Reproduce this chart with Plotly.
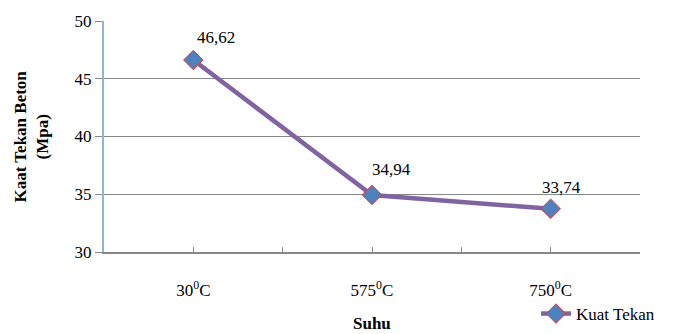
import plotly.graph_objects as go

# Compressive strength of concrete at different temperatures
suhu = ["30<sup>0</sup>C", "575<sup>0</sup>C", "750<sup>0</sup>C"]
kuat_tekan = [46.62, 34.94, 33.74]
label_teks = ["46,62", "34,94", "33,74"]
series_name = "Kuat Tekan"

# label offsets (px) relative to each marker
label_dx = [23, 19, 11]
label_dy = [23, 25, 21]

FONT = "Tinos, Liberation Serif, DejaVu Serif"
LINE_C = "#8064A2"
MARK_C = "#4F81BD"
GRID_C = "#878787"

x_idx = list(range(len(suhu)))

fig = go.Figure()
fig.add_trace(go.Scatter(
    x=x_idx, y=kuat_tekan, mode="lines+markers", name=series_name,
    line=dict(color=LINE_C, width=4.5),
    marker=dict(symbol="diamond", size=15, color=MARK_C,
                line=dict(color="#E8343A", width=1)),
))

for xi, v, t, dx, dy in zip(x_idx, kuat_tekan, label_teks, label_dx, label_dy):
    fig.add_annotation(x=xi, y=v, text=t, showarrow=False, xshift=dx, yshift=dy,
                       font=dict(family=FONT, size=17, color="#000"))

# tick marks between categories
half_ticks = [i + 0.5 for i in range(-1, len(suhu))]

fig.update_layout(
    width=675, height=334,
    margin=dict(l=104, r=35, t=21, b=82, autoexpand=False),
    paper_bgcolor="white", plot_bgcolor="white",
    font=dict(family=FONT, size=16, color="#000"),
    showlegend=True,
    legend=dict(x=(536 - 104) / 536, xanchor="left",
                y=(252 - 314) / 231, yanchor="middle",
                bgcolor="rgba(0,0,0,0)", font=dict(family=FONT, size=17),
                itemwidth=30, borderwidth=0),
    xaxis=dict(range=[-0.5, 2.5], tickvals=x_idx, ticktext=suhu,
               ticks="inside", ticklen=5, tickcolor=GRID_C,
               minor=dict(tickvals=half_ticks, ticks="inside", ticklen=5,
                          tickcolor=GRID_C, showgrid=False),
               showgrid=False, zeroline=False,
               showline=True, linecolor=GRID_C, linewidth=1.5,
               ticklabelstandoff=22, tickfont=dict(family=FONT, size=17)),
    yaxis=dict(range=[30, 50], dtick=5, ticks="outside", ticklen=7,
               tickcolor=GRID_C, showgrid=True, gridcolor=GRID_C, gridwidth=1,
               zeroline=False, showline=True, linecolor="#8DB4E2", linewidth=2,
               tickfont=dict(family=FONT, size=17)),
)

fig.add_annotation(xref="paper", yref="paper", x=(31 - 104) / 536, y=0.5,
                   text="<b>Kaat Tekan Beton<br>(Mpa)</b>", textangle=-90,
                   showarrow=False, xanchor="center", yanchor="middle",
                   font=dict(family=FONT, size=17, color="#000"))
fig.add_annotation(xref="paper", yref="paper", x=0.5, y=(252 - 323) / 231,
                   text="<b>Suhu</b>", showarrow=False,
                   xanchor="center", yanchor="middle",
                   font=dict(family=FONT, size=17, color="#000"))

fig.write_html("out.html")
